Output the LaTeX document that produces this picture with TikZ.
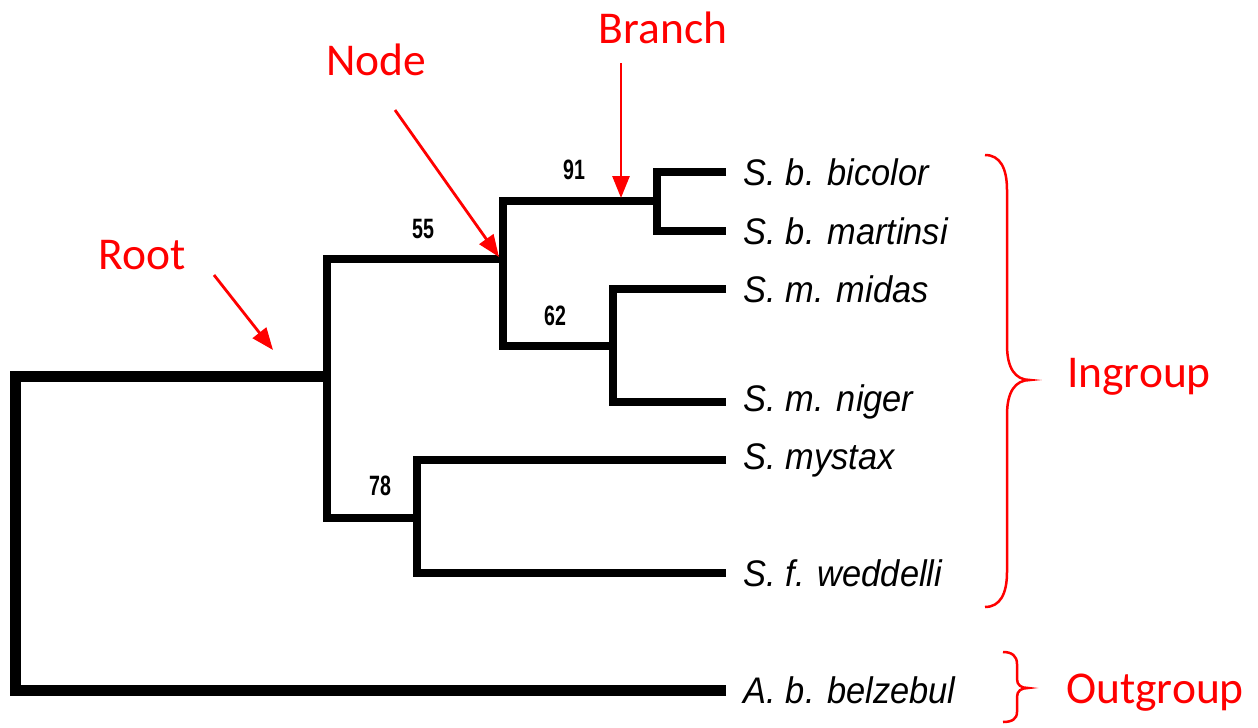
\documentclass[tikz,border=0pt]{standalone}
\usepackage{fontspec}
\setmainfont{Carlito}
\newfontfamily\arialf{Liberation Sans}
\usetikzlibrary{arrows.meta}
\definecolor{annot}{RGB}{255,0,0}
\tikzset{
  rootline/.style={line width=11pt, line join=miter},
  treeline/.style={line width=8.5pt, line join=miter},
  leaf/.style={anchor=west, inner xsep=19pt, inner ysep=0pt, font=\arialf\itshape\fontsize{37}{40}\selectfont, xscale=0.93, transform shape},
  boot/.style={inner sep=0pt, font=\arialf\bfseries\fontsize{28}{30}\selectfont, xscale=0.7, transform shape},
  redlabel/.style={text=annot, inner sep=0pt, font=\fontsize{45.5}{50}\selectfont},
  redarrow/.style={draw=annot, line width=2.8pt, -{Triangle[length=22pt,width=17pt]}},
  brace/.style={draw=annot, line width=2.5pt}
}
\begin{document}
\begin{tikzpicture}[x=1pt,y=-1pt]
\useasboundingbox (0,0) rectangle (1258,728);
% internal nodes
\coordinate (root) at (15.5,376);
\coordinate (n1) at (327,376);
\coordinate (n2) at (503,259);
\coordinate (n3) at (657,201);
\coordinate (n4) at (613,346);
\coordinate (n5) at (417,518);
% leaves
\node[leaf] (bic) at (726,172) {S. b. bicolor};
\node[leaf] (mar) at (726,231) {S. b. martinsi};
\node[leaf] (mid) at (726,289) {S. m. midas};
\node[leaf] (nig) at (726,402) {S. m. niger};
\node[leaf] (mys) at (726,460) {S. mystax};
\node[leaf] (wed) at (726,573) {S. f. weddelli};
\node[leaf] (bel) at (726,690) {A. b. belzebul};
% tree
\draw[rootline] (bel.west) -| (root) -- (n1);
\draw[treeline] (n2) -| (n1) |- (n5);
\draw[treeline] (n3) -| (n2) |- (n4);
\draw[treeline] (bic.west) -| (n3) |- (mar.west);
\draw[treeline] (mid.west) -| (n4) |- (nig.west);
\draw[treeline] (mys.west) -| (n5) |- (wed.west);
% bootstrap values
\node[boot] (b55) at (423,229) {55};
\node[boot] (b91) at (574,170) {91};
\node[boot] (b62) at (555,316) {62};
\node[boot] (b78) at (380,486) {78};
% annotations
\node[redlabel] (lbranch) at (663,28) {Branch};
\node[redlabel] (lnode) at (376,60) {Node};
\node[redlabel] (lroot) at (142,255) {Root};
\node[redlabel] (lin) at (1139,377) {Ingroup};
\node[redlabel] (lout) at (1155,693) {Outgroup};
\coordinate (abranchS) at (621,63);
\coordinate (abranchE) at (621,198);
\coordinate (anodeS) at (395,110);
\coordinate (anodeE) at (499,257);
\coordinate (arootS) at (214,275);
\coordinate (arootE) at (273,350);
\draw[redarrow] (abranchS) -- (abranchE);
\draw[redarrow] (anodeS) -- (anodeE);
\draw[redarrow] (arootS) -- (arootE);
% braces
\draw[brace] (985,155) .. controls (1000,155) and (1007,168) .. (1007,190) -- (1007,345)
  .. controls (1007,368) and (1015,380) .. (1030,380)
  .. controls (1015,380) and (1007,392) .. (1007,415) -- (1007,572)
  .. controls (1007,594) and (1000,607) .. (985,607);
\draw[brace] (1003,652) .. controls (1012,652) and (1017,656) .. (1017,664) -- (1017,679)
  .. controls (1017,685) and (1021,688) .. (1028,688)
  .. controls (1021,688) and (1017,691) .. (1017,697) -- (1017,712)
  .. controls (1017,719) and (1012,722) .. (1003,722);
\end{tikzpicture}
\end{document}
